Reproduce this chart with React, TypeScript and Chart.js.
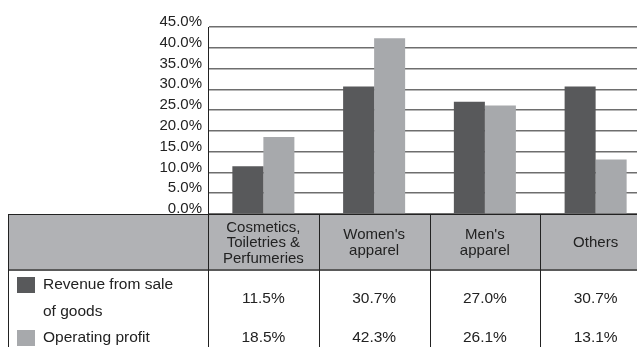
import React, { useEffect, useRef } from "react";
import { Chart, registerables } from "chart.js";

Chart.register(...registerables);

const categories: string[][] = [
  ["Cosmetics,", "Toiletries &", "Perfumeries"],
  ["Women's", "apparel"],
  ["Men's", "apparel"],
  ["Others"],
];
const revenueShare = [11.5, 30.7, 27.0, 30.7];
const operatingProfitShare = [18.5, 42.3, 26.1, 13.1];
const seriesLegendLines: string[][] = [["Revenue from sale", "of goods"], ["Operating profit"]];
const seriesNames = ["Revenue from sale of goods", "Operating profit"];
const seriesColors = ["#58595b", "#a7a9ac"];
const yMin = 0;
const yMax = 45;
const yStep = 5;

const FONT = "'Liberation Sans', Arial, Helvetica, sans-serif";

const tablePlugin = {
  id: "dataTable",
  afterDraw(chart: any) {
    const ctx = chart.ctx as CanvasRenderingContext2D;
    const xs = chart.scales.x;
    const area = chart.chartArea;
    const W = chart.width;
    const H = chart.height;
    const n = categories.length;
    const colW = (xs.right - xs.left) / n;
    const top = area.bottom;
    const headerH = 56;
    const headerBottom = top + headerH;
    const tableLeft = 8;

    ctx.save();
    ctx.fillStyle = "#b1b2b5";
    ctx.fillRect(tableLeft, top, W - tableLeft, headerH);

    ctx.strokeStyle = "#5a5a5a";
    ctx.lineWidth = 2;
    ctx.beginPath();
    ctx.moveTo(tableLeft, headerBottom);
    ctx.lineTo(W, headerBottom);
    ctx.stroke();

    ctx.strokeStyle = "#222";
    ctx.lineWidth = 1;
    ctx.beginPath();
    ctx.moveTo(tableLeft, Math.round(top) + 0.5);
    ctx.lineTo(W, Math.round(top) + 0.5);
    ctx.stroke();

    const vx: number[] = [tableLeft];
    for (let i = 0; i <= n; i++) vx.push(xs.left + i * colW);
    ctx.beginPath();
    vx.forEach((x) => {
      const px = Math.round(x) + 0.5;
      ctx.moveTo(px, top);
      ctx.lineTo(px, H);
    });
    ctx.stroke();

    ctx.fillStyle = "#222";
    ctx.textAlign = "center";
    ctx.textBaseline = "middle";
    ctx.font = `15px ${FONT}`;
    const headerMid = top + headerH / 2;
    const lh = 15.5;
    categories.forEach((lines, i) => {
      const cx = xs.getPixelForValue(i);
      const startY = headerMid - ((lines.length - 1) * lh) / 2 + 1;
      lines.forEach((ln, j) => ctx.fillText(ln, cx, startY + j * lh));
    });

    ctx.font = `15.5px ${FONT}`;
    const rowY = [299, 338];
    const series = [revenueShare, operatingProfitShare];
    series.forEach((vals, r) => {
      vals.forEach((v, i) => {
        const cx = xs.getPixelForValue(i);
        ctx.fillText(v.toFixed(1) + "%", cx, rowY[r]);
      });
    });

    ctx.textAlign = "left";
    const legendTop = [277, 330];
    const legendLineY = [[285, 312], [338]];
    seriesLegendLines.forEach((lines, r) => {
      ctx.fillStyle = seriesColors[r];
      ctx.fillRect(17, legendTop[r], 18, 16);
      ctx.fillStyle = "#222";
      lines.forEach((ln, j) => ctx.fillText(ln, 43, legendLineY[r][j]));
    });

    ctx.restore();
  },
};

export default function App() {
  const ref = useRef<HTMLCanvasElement | null>(null);
  useEffect(() => {
    if (!ref.current) return;
    const chart = new Chart(ref.current, {
      type: "bar",
      data: {
        labels: categories.map((c) => c.join(" ")),
        datasets: [
          {
            label: seriesNames[0],
            data: revenueShare,
            backgroundColor: seriesColors[0],
            borderWidth: 0,
          },
          {
            label: seriesNames[1],
            data: operatingProfitShare,
            backgroundColor: seriesColors[1],
            borderWidth: 0,
          },
        ],
      },
      options: {
        responsive: false,
        animation: false,
        devicePixelRatio: 1,
        layout: { padding: { left: 0, top: 27, right: 9, bottom: 133 } },
        datasets: { bar: { categoryPercentage: 0.56, barPercentage: 1 } },
        plugins: {
          legend: { display: false },
          tooltip: { enabled: false },
          title: { display: false },
        },
        scales: {
          x: { display: false },
          y: {
            min: yMin,
            max: yMax,
            afterFit: (scale: any) => {
              scale.width = 208;
            },
            ticks: {
              stepSize: yStep,
              autoSkip: false,
              padding: 6,
              labelOffset: -5,
              color: "#222",
              font: { family: FONT, size: 15 },
              callback: (v: any) => Number(v).toFixed(1) + "%",
            },
            grid: {
              drawTicks: false,
              color: "#6e6e6e",
              lineWidth: 1.5,
            },
            border: { display: true, color: "#222", width: 1 },
          },
        },
      },
      plugins: [tablePlugin],
    });
    return () => chart.destroy();
  }, []);

  return (
    <div
      style={{
        position: "fixed",
        left: 0,
        top: 0,
        width: 637,
        height: 347,
        overflow: "hidden",
        background: "#fff",
      }}
    >
      <canvas ref={ref} width={660} height={347} style={{ display: "block" }} />
    </div>
  );
}
